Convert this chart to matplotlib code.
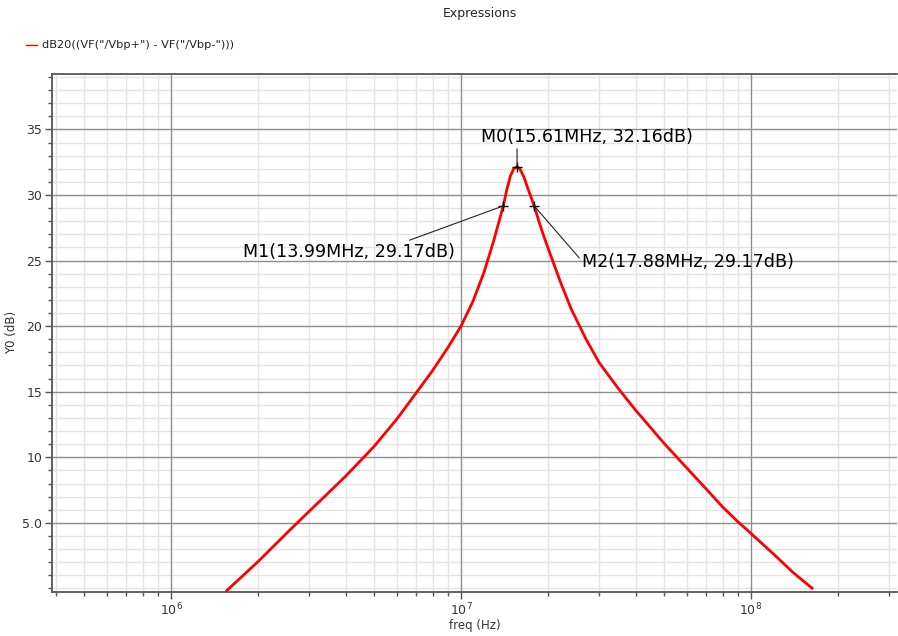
import numpy as np
import matplotlib
matplotlib.use("Agg")
import matplotlib.pyplot as plt
from matplotlib.ticker import FixedLocator, LogLocator, NullFormatter, FixedFormatter
from matplotlib.lines import Line2D

# ---- data ----
freq_hz = [1.55e6, 2.0e6, 2.5e6, 3.0e6, 4.0e6, 5.0e6, 6.0e6, 7.0e6, 8.0e6, 9.0e6,
           10.0e6, 11.0e6, 12.0e6, 13.0e6, 13.99e6, 14.4e6, 14.8e6, 15.2e6, 15.61e6,
           16.0e6, 16.5e6, 17.0e6, 17.4e6, 17.88e6, 18.5e6, 19.2e6, 20e6, 22e6, 24e6,
           27e6, 30e6, 35e6, 40e6, 50e6, 60e6, 70e6, 80e6, 90e6, 100e6, 120e6, 140e6,
           163e6]
gain_db = [-0.2, 2.07, 4.2, 5.9, 8.56, 10.8, 12.9, 14.9, 16.65, 18.35,
           20.0, 21.9, 24.1, 26.6, 29.17, 30.45, 31.45, 32.0, 32.16,
           31.95, 31.35, 30.5, 29.9, 29.17, 28.1, 27.0, 25.9, 23.4, 21.3,
           19.0, 17.2, 15.2, 13.6, 11.1, 9.2, 7.6, 6.2, 5.1, 4.2, 2.6, 1.2,
           0.0]

marker_names = ["M0", "M1", "M2"]
marker_freq = [15.61e6, 13.99e6, 17.88e6]
marker_db = [32.16, 29.17, 29.17]
marker_labels = ["M0(15.61MHz, 32.16dB)", "M1(13.99MHz, 29.17dB)", "M2(17.88MHz, 29.17dB)"]

ytick_vals = [5, 10, 15, 20, 25, 30, 35]
ytick_labels = ["5.0", "10", "15", "20", "25", "30", "35"]
legend_label = 'dB20((VF("/Vbp+") - VF("/Vbp-")))'

# ---- figure ----
W, H = 898, 636
fig = plt.figure(figsize=(W / 100, H / 100), dpi=100)
fig.patch.set_facecolor("white")
left_px, right_px, top_px, bot_px = 52, 897, 73.7, 591.7
ax = fig.add_axes([left_px / W, 1 - bot_px / H, (right_px - left_px) / W, (bot_px - top_px) / H])

ax.set_xscale("log")
ax.set_xlim(10 ** 5.589, 10 ** 8.504)
ax.set_ylim(-0.25, 39.25)

ax.plot(freq_hz, gain_db, color="#ff0000", lw=2.0, solid_capstyle="round",
        solid_joinstyle="round", zorder=3)

# ticks
ax.xaxis.set_major_locator(LogLocator(base=10, numticks=10))
ax.xaxis.set_minor_locator(LogLocator(base=10, subs=np.arange(2, 10), numticks=20))
ax.xaxis.set_minor_formatter(NullFormatter())
ax.yaxis.set_major_locator(FixedLocator(ytick_vals))
ax.yaxis.set_major_formatter(FixedFormatter(ytick_labels))
ax.yaxis.set_minor_locator(FixedLocator(np.arange(0, 40, 1)))

# grid drawn as lines so that major lines sit above all minor lines
xlo, xhi = ax.get_xlim()
ylo, yhi = ax.get_ylim()
for v in ax.xaxis.get_minorticklocs():
    if xlo < v < xhi:
        ax.axvline(v, color="#e4e4e4", lw=1.0, zorder=0.5)
for v in ax.yaxis.get_minorticklocs():
    if ylo < v < yhi:
        ax.axhline(v, color="#e4e4e4", lw=1.0, zorder=0.5)
for v in ax.xaxis.get_majorticklocs():
    if xlo < v < xhi:
        ax.axvline(v, color="#8e8e8e", lw=1.0, zorder=1)
for v in ytick_vals:
    ax.axhline(v, color="#8e8e8e", lw=1.0, zorder=1)

for s in ["left", "bottom", "top"]:
    ax.spines[s].set_color("#555555")
    ax.spines[s].set_linewidth(1.3)
ax.spines["right"].set_visible(False)

ax.tick_params(which="major", direction="out", length=5, width=1, color="#555555",
               labelsize=9, labelcolor="#333333", pad=2)
ax.tick_params(which="minor", direction="out", length=3, width=1, color="#555555")

ax.set_xlabel("freq (Hz)", fontsize=8.5, color="#333333", labelpad=1)
ax.set_ylabel("Y0 (dB)", fontsize=8.5, color="#333333", labelpad=3)

fig.text(480 / W, 1 - 14 / H, "Expressions", ha="center", va="center", fontsize=9, color="#222222")
fig.lines.append(Line2D([26 / W, 37 / W], [1 - 45 / H, 1 - 45 / H], color="#ff0000", lw=1,
                        transform=fig.transFigure))
fig.text(42 / W, 1 - 45 / H, legend_label, ha="left", va="center", fontsize=8.2, color="#222222")

# markers
ax.plot(marker_freq, marker_db, linestyle="none", marker="+", color="black", ms=7, mew=1, zorder=4)

def axfrac(px, py):
    return ((px - left_px) / (right_px - left_px), (bot_px - py) / (bot_px - top_px))

text_pix = [(481, 137), (243, 252), (582, 262)]
relpos = [(0.17, 0.0), (0.75, 1.0), (0.0, 0.55)]
for lab, fx, fy, (px, py), rp in zip(marker_labels, marker_freq, marker_db, text_pix, relpos):
    ax.annotate(lab, xy=(fx, fy), xycoords="data", xytext=axfrac(px, py),
                textcoords="axes fraction", ha="left", va="center", fontsize=12.6,
                color="black",
                arrowprops=dict(arrowstyle="-", color="#222222", lw=0.8, relpos=rp,
                                shrinkA=0, shrinkB=0), zorder=5)

fig.savefig("out.png", dpi=100, facecolor="white")
